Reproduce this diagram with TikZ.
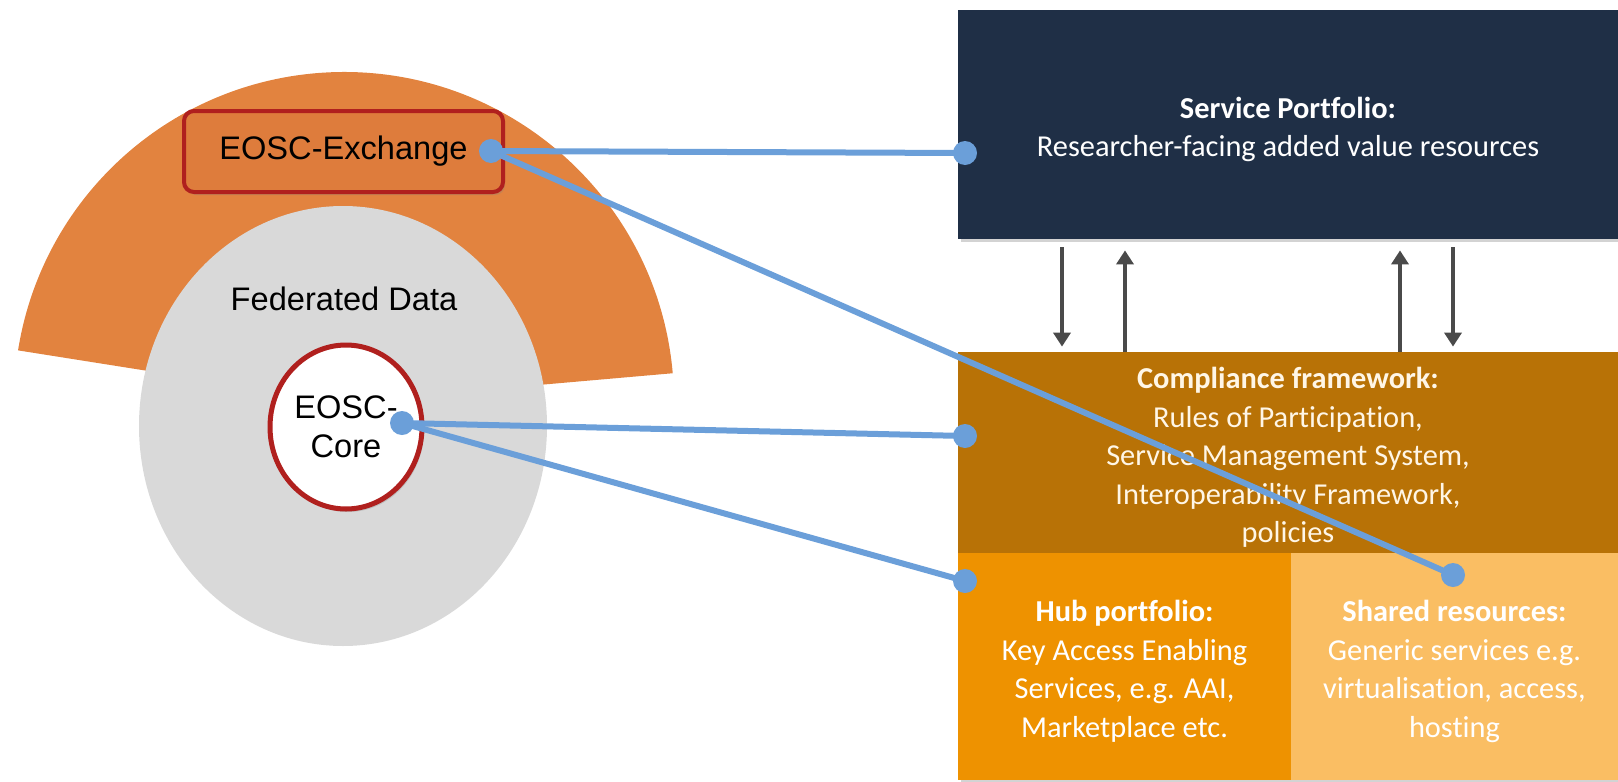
\documentclass[tikz,border=0pt]{standalone}
\usepackage{fontspec}
\setmainfont{Carlito}[Ligatures=NoCommon]
\newfontfamily\arialfont{Liberation Sans}
\usetikzlibrary{shapes.geometric,shadows,arrows.meta}

\definecolor{navy}{HTML}{1F2F46}
\definecolor{compbrown}{HTML}{B87206}
\definecolor{huborange}{HTML}{EE9200}
\definecolor{sharedtan}{HTML}{FABE63}
\definecolor{wedgeorange}{HTML}{E2833F}
\definecolor{exorange}{HTML}{DE7C3C}
\definecolor{exred}{HTML}{B0201E}
\definecolor{fedgray}{HTML}{D9D9D9}
\definecolor{linkblue}{HTML}{6B9FD9}
\definecolor{arrowgray}{HTML}{4A4A4A}
\definecolor{cream}{HTML}{FFF6E6}

% a taller first line pushes the panel text a little down
\newcommand{\topstrut}{\rule{0pt}{15.5pt}}

\tikzset{
  panel/.style={rectangle, inner sep=0pt, text=white, align=center,
    font=\fontsize{15.2}{19.25}\selectfont,
    drop shadow={shadow xshift=1.5pt, shadow yshift=-1.5pt, opacity=0.35}},
  flowarrow/.style={draw=arrowgray, line width=2.2pt, -{Triangle[width=8.5pt,length=7pt]}},
  link/.style={draw=linkblue, line width=3pt},
  bdot/.style={circle, fill=linkblue, inner sep=0pt, minimum size=12pt},
  lefttext/.style={font=\arialfont\fontsize{16.3}{19.5}\selectfont, align=center}
}

\begin{document}
\begin{tikzpicture}[x=0.5pt,y=-0.5pt]
  \useasboundingbox (0,0) rectangle (1618,782);

  % right hand stack
  \node[panel, fill=navy, minimum width=330pt, minimum height=114.5pt] (sp) at (1288,124.5)
    {\topstrut\textbf{Service Portfolio:}\\Researcher-facing added value resources};
  \node[panel, fill=compbrown, text=cream, minimum width=330pt, minimum height=100.5pt] (cf) at (1288,452.5)
    {\topstrut\textbf{Compliance framework:}\\Rules of Participation,\\Service Management System,\\Interoperability Framework,\\policies};
  \node[panel, fill=huborange, minimum width=166.5pt, minimum height=113.5pt] (hub) at (1124.5,666.5)
    {\topstrut\textbf{Hub portfolio:}\\Key Access Enabling\\Services, e.g. AAI,\\Marketplace etc.};
  \node[panel, fill=sharedtan, minimum width=163.5pt, minimum height=113.5pt] (shared) at (1454.5,666.5)
    {\topstrut\textbf{Shared resources:}\\Generic services e.g.\\virtualisation, access,\\hosting};

  \draw[flowarrow, shorten <=4pt, shorten >=2.5pt] (1062,0 |- sp.south) -- (1062,0 |- cf.north);
  \draw[flowarrow, shorten >=5.5pt] (1125,0 |- cf.north) -- (1125,0 |- sp.south);
  \draw[flowarrow, shorten >=5.5pt] (1400,0 |- cf.north) -- (1400,0 |- sp.south);
  \draw[flowarrow, shorten <=4pt, shorten >=2.5pt] (1453,0 |- sp.south) -- (1453,0 |- cf.north);

  % left hand rings
  \fill[wedgeorange] (344,402) -- ++(5:165pt) arc[start angle=5, end angle=171, radius=165pt] -- cycle;
  \fill[fedgray] (343,426) ellipse [x radius=102pt, y radius=110pt];

  \node[lefttext, draw=exred, line width=2pt, rounded corners=5pt, fill=exorange,
    minimum width=159.5pt, minimum height=40.5pt,
    drop shadow={shadow xshift=1pt, shadow yshift=-1.5pt, opacity=0.3}] (ex) at (343.5,151.5) {EOSC-Exchange};
  \node[lefttext] (fed) at (344,299) {Federated Data};
  \node[lefttext, ellipse, draw=exred, line width=2.5pt, fill=white, inner sep=0pt,
    minimum width=76pt, minimum height=82pt,
    drop shadow={shadow xshift=1pt, shadow yshift=-1.5pt, opacity=0.3}] (core) at (346,427) {EOSC-\\Core};

  % blue links
  \node[bdot] (dex) at (491,151) {};
  \node[bdot] (dcore) at (402,423) {};
  \node[bdot] (dsp) at (965,153) {};
  \node[bdot] (dcf) at (965,436) {};
  \node[bdot] (dhub) at (965,581) {};
  \node[bdot] (dsh) at (1453,575) {};

  \draw[link] (dex.center) -- (dsp.center);
  \draw[link] (dex.center) -- (dsh.center);
  \draw[link] (dcore.center) -- (dcf.center);
  \draw[link] (dcore.center) -- (dhub.center);
\end{tikzpicture}
\end{document}
